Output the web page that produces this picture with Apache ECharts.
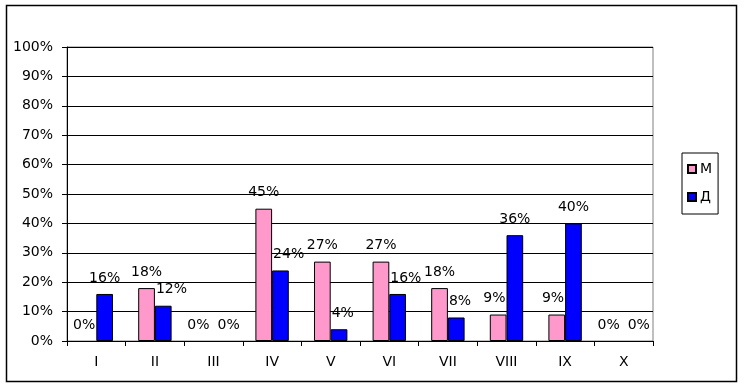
<!DOCTYPE html>
<html><head><meta charset="utf-8">
<script src="https://cdn.jsdelivr.net/npm/echarts@6/dist/echarts.min.js"></script>
<style>html,body{margin:0;padding:0;background:#fff}#c{width:746px;height:389px}</style>
</head><body><div id="c"></div>
<script>
var categories = ['I','II','III','IV','V','VI','VII','VIII','IX','X'];
var seriesNames = ['М','Д'];
var valuesM = [0,18,0,45,27,27,18,9,9,0];
var valuesD = [16,12,0,24,4,16,8,36,40,0];
var yTicks = [0,10,20,30,40,50,60,70,80,90,100];

var font = 'DejaVu Sans';
var labelFontSize = 14;
var labelDistance = 9;
var chart = echarts.init(document.getElementById('c'), null, {renderer:'canvas'});

function toItems(data, offsets){
  return data.map(function(v, i){
    var item = {value: v};
    if (v === 0) item.itemStyle = {borderWidth: 0};
    if (offsets) item.label = {offset: [offsets[i], 0]};
    return item;
  });
}
function barSeries(name, data, color, offsets){
  return {
    name: name, type: 'bar', data: toItems(data, offsets),
    barGap: '0%', barCategoryGap: '43%',
    itemStyle: {color: color, borderColor: '#000', borderWidth: 1},
    label: {show: true, position: 'top', distance: labelDistance, formatter: '{c}%',
      color: '#000', fontFamily: font, fontSize: labelFontSize},
    emphasis: {disabled: true}, animation: false
  };
}
chart.setOption({
  animation: false,
  graphic: [{type:'rect', shape:{x:6.5,y:5.5,width:730,height:376},
    style:{fill:'none', stroke:'#000', lineWidth:1.5}, silent:true}],
  grid: {left: 67, top: 47, width: 586, height: 294, show: true,
    borderColor: '#808080', borderWidth: 1, backgroundColor: 'transparent'},
  legend: {orient: 'vertical', left: 682, top: 153, icon: 'rect',
    itemWidth: 8, itemHeight: 8, itemGap: 14,
    padding: [9, 6, 10, 5], borderColor: '#000', borderWidth: 1,
    textStyle: {fontFamily: font, fontSize: 14, color: '#000', padding:[0,0,0,-1]},
    data: seriesNames},
  xAxis: {type: 'category', data: categories,
    axisLine: {lineStyle: {color: '#000'}},
    axisTick: {show: true, length: 5, lineStyle:{color:'#000'}},
    axisLabel: {fontFamily: font, fontSize: 14, color: '#000', margin: 14}},
  yAxis: {type: 'value', min: yTicks[0], max: yTicks[yTicks.length-1], interval: 10,
    axisLine: {show: true, lineStyle: {color: '#000'}},
    axisTick: {show: true, length: 5, lineStyle:{color:'#000'}},
    splitLine: {show: true, lineStyle: {color: '#000', width: 1}},
    axisLabel: {fontFamily: font, fontSize: 14, color: '#000', margin: 14, formatter: '{value}%'}},
  series: [barSeries(seriesNames[0], valuesM, '#FF99CC'), barSeries(seriesNames[1], valuesD, '#0000FF')]
});

// Label placement like the original: keep labels off neighbouring bars and off each other.
(function(){
  var ctx = document.createElement('canvas').getContext('2d');
  ctx.font = labelFontSize + 'px ' + font;
  var all = [valuesM, valuesD];
  var bars = [], labels = [];
  for (var s = 0; s < 2; s++) {
    var data = chart.getModel().getSeriesByIndex(s).getData();
    for (var i = 0; i < categories.length; i++) {
      var L = data.getItemLayout(i);
      var top = Math.min(L.y, L.y + L.height), bot = Math.max(L.y, L.y + L.height);
      var b = {s: s, i: i, x0: L.x, x1: L.x + L.width, y0: top, y1: bot};
      bars.push(b);
      var w = ctx.measureText(all[s][i] + '%').width + 2;
      var cx = (b.x0 + b.x1) / 2;
      var cy = top - labelDistance - labelFontSize / 2;
      labels.push({s: s, i: i, cx0: cx, cx: cx, w: w, y0: cy - labelFontSize/2, y1: cy + labelFontSize/2});
    }
  }
  labels.forEach(function(l){
    bars.forEach(function(b){
      if (b.s === l.s && b.i === l.i) return;
      if (b.y1 - b.y0 < 1) return;
      var lx0 = l.cx - l.w/2, lx1 = l.cx + l.w/2;
      if (lx1 > b.x0 && lx0 < b.x1 && l.y1 > b.y0 && l.y0 < b.y1) {
        if ((b.x0 + b.x1)/2 > l.cx) l.cx = b.x0 - l.w/2; else l.cx = b.x1 + l.w/2;
      }
    });
  });
  for (var i = 0; i < categories.length; i++) {
    var a = labels[i], b = labels[categories.length + i];
    var gap = 6;
    var need = (a.w + b.w)/2 + gap - (b.cx - a.cx);
    if (need > 0 && a.y1 > b.y0 && a.y0 < b.y1) { a.cx -= need/2; b.cx += need/2; }
  }
  var offs = [[], []];
  labels.forEach(function(l){ offs[l.s][l.i] = l.cx - l.cx0; });
  chart.setOption({series: [
    {data: toItems(valuesM, offs[0])},
    {data: toItems(valuesD, offs[1])}
  ]});
})();
</script></body></html>
